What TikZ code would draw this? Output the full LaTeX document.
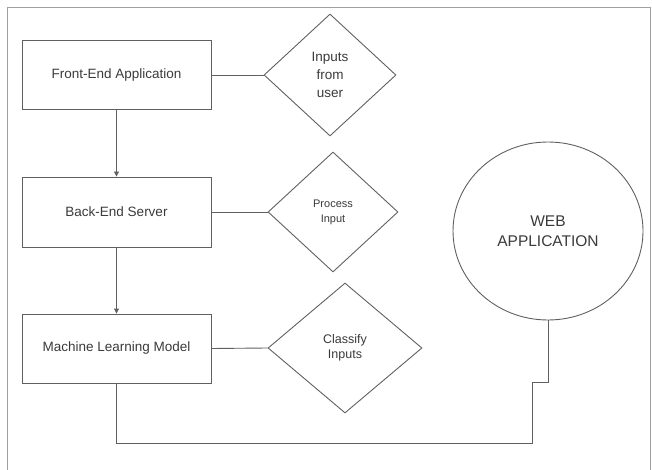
\documentclass[tikz,border=0pt]{standalone}
\usepackage{fontspec}
\setmainfont{Liberation Sans}
\usetikzlibrary{shapes.geometric,arrows.meta}
\definecolor{linegray}{HTML}{606060}
\definecolor{framegray}{HTML}{A0A0A0}
\definecolor{textgray}{HTML}{3A3A3A}
\begin{document}
\begin{tikzpicture}[x=1pt,y=-1pt,
  every node/.style={text=textgray},
  procbox/.style={draw=linegray,line width=0.9pt,rectangle,minimum width=189pt,minimum height=69pt,inner sep=0pt,font=\fontsize{13.5}{16}\selectfont},
  decbox/.style={draw=linegray,line width=0.9pt,diamond,inner sep=0pt,align=center},
  conn/.style={draw=linegray,line width=0.9pt},
  arr/.style={conn,-{Triangle[length=5pt,width=5pt]}}]
\useasboundingbox (0,0) rectangle (652,470);
\clip (0,0) rectangle (652,470);
\draw[framegray,line width=0.9pt] (7,7) rectangle (650,480);
\node[procbox] (fe) at (116.5,75) {Front-End Application};
\node[procbox,minimum height=70pt] (be) at (116.5,212) {Back-End Server};
\node[procbox] (ml) at (116.5,348.5) {Machine Learning Model};
\node[decbox,minimum width=132pt,minimum height=122pt,font=\fontsize{13.5}{18}\selectfont] (d1) at (330,75) {Inputs\\from\\user};
\node[decbox,minimum width=130pt,minimum height=120pt,font=\fontsize{11}{15}\selectfont] (d2) at (333,212) {Process\\Input};
\node[decbox,minimum width=154pt,minimum height=130pt,font=\fontsize{12.5}{15.5}\selectfont] (d3) at (345,348) {Classify\\Inputs};
\node[draw=linegray,line width=0.9pt,ellipse,minimum width=190pt,minimum height=178pt,inner sep=0pt,align=center,font=\fontsize{15.5}{20}\selectfont] (web) at (548,231) {WEB\\APPLICATION};
\draw[conn] (fe.east) -- (d1.west);
\draw[conn] (be.east) -- (d2.west);
\draw[conn] (ml.east) -- (d3.west);
\draw[arr] (fe.south) -- (be.north);
\draw[arr] (be.south) -- (ml.north);
\coordinate (c1) at (116.5,443);
\coordinate (c2) at (532,443);
\coordinate (c3) at (532,382);
\coordinate (c4) at (548,382);
\draw[conn] (ml.south) -- (c1) -- (c2) -- (c3) -- (c4) -- (web.south);
\end{tikzpicture}
\end{document}
